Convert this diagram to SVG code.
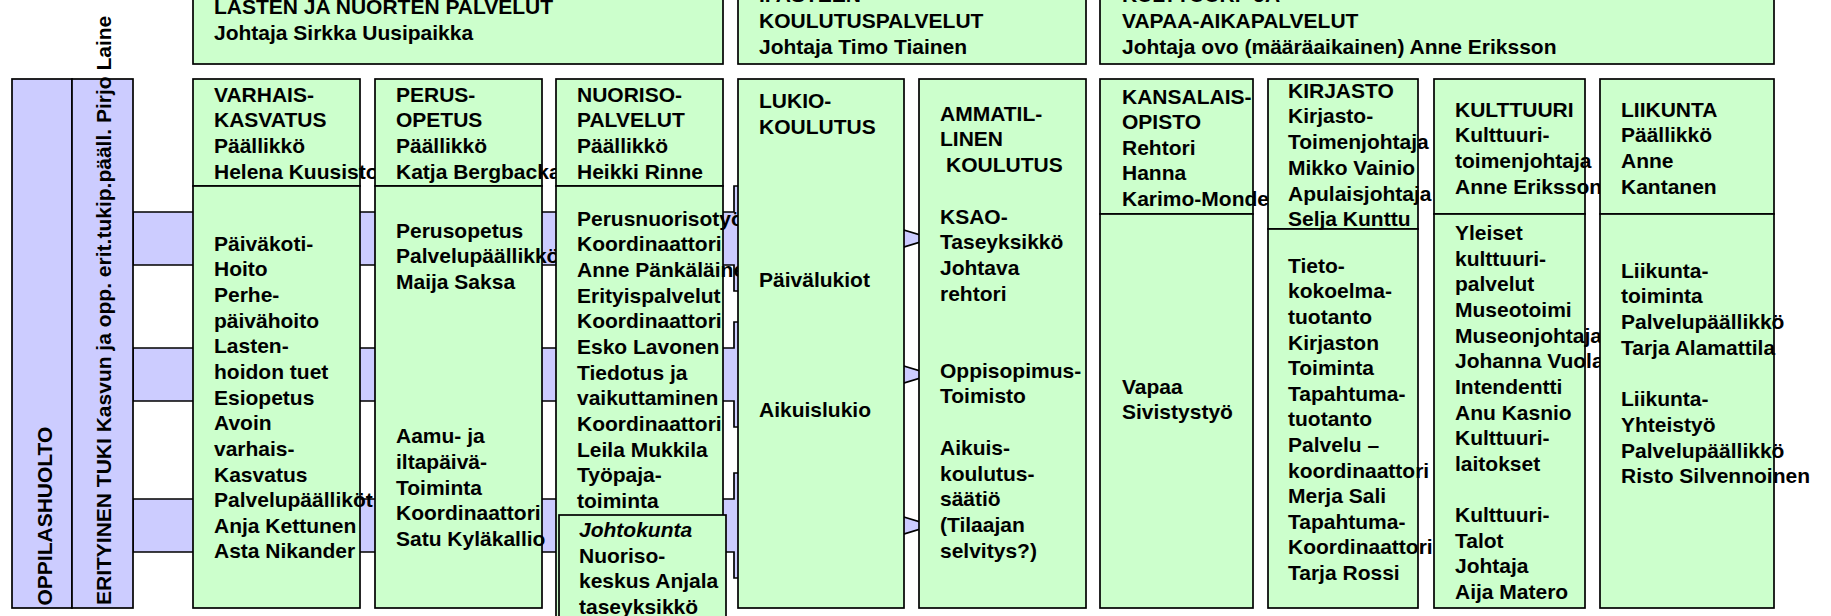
<svg xmlns="http://www.w3.org/2000/svg" width="1831" height="616" viewBox="0 0 1831 616">
<style>
.g{fill:#CCFFCC;stroke:#000;stroke-width:1.7}
.l{fill:#CCCCFF;stroke:#000;stroke-width:1.7}
text{font-family:"Liberation Sans",Arial,sans-serif;font-weight:bold;font-size:21px;fill:#000}
.i{font-style:italic}
</style>
<rect x="0" y="0" width="1831" height="616" fill="#fff"/>
<g id="connectors">
<path class="l" d="M133,212H734V186H745V291H734V265H133Z"/>
<path class="l" d="M133,348H734V322H745V427H734V401H133Z"/>
<path class="l" d="M133,499H734V473H745V578H734V552H133Z"/>
<polygon class="l" points="898,228.2 925,236.5 925,240.5 898,248.8"/>
<polygon class="l" points="898,364.2 925,372.5 925,376.5 898,384.8"/>
<polygon class="l" points="898,515.2 925,523.5 925,527.5 898,535.8"/>
</g>
<g id="header-lasten">
<rect class="g" x="193" y="-40" width="530" height="104"/>
<text x="214" y="14">LASTEN JA NUORTEN PALVELUT<tspan x="214" y="40">Johtaja Sirkka Uusipaikka</tspan></text>
</g>
<g id="header-koulutus">
<rect class="g" x="738" y="-40" width="348" height="104"/>
<text x="759" y="2.3">II ASTEEN<tspan x="759" y="28">KOULUTUSPALVELUT</tspan><tspan x="759" y="53.7">Johtaja Timo Tiainen</tspan></text>
</g>
<g id="header-kulttuuri">
<rect class="g" x="1100" y="-40" width="674" height="104"/>
<text x="1122" y="2.3">KULTTUURI- JA<tspan x="1122" y="28">VAPAA-AIKAPALVELUT</tspan><tspan x="1122" y="53.7">Johtaja ovo (määräaikainen) Anne Eriksson</tspan></text>
</g>
<g id="oppilashuolto">
<rect class="l" x="12" y="79" width="60" height="529"/>
<text transform="translate(51.5,605.5) rotate(-90)">OPPILASHUOLTO</text>
</g>
<g id="erityinen-tuki">
<rect class="l" x="72" y="79" width="61" height="529"/>
<text transform="translate(111,605) rotate(-90)">ERITYINEN TUKI Kasvun ja opp. erit.tukip.pääll. Pirjo Laine</text>
</g>
<g id="varhaiskasvatus">
<rect class="g" x="193" y="79" width="167" height="107"/>
<rect class="g" x="193" y="186" width="167" height="422"/>
<text x="214" y="101.7">VARHAIS-<tspan x="214" dy="25.7">KASVATUS</tspan><tspan x="214" dy="25.7">Päällikkö</tspan><tspan x="214" dy="25.7">Helena Kuusisto</tspan></text>
<text x="214" y="250.7">Päiväkoti-<tspan x="214" dy="25.65">Hoito</tspan><tspan x="214" dy="25.65">Perhe-</tspan><tspan x="214" dy="25.65">päivähoito</tspan><tspan x="214" dy="25.65">Lasten-</tspan><tspan x="214" dy="25.65">hoidon tuet</tspan><tspan x="214" dy="25.65">Esiopetus</tspan><tspan x="214" dy="25.65">Avoin</tspan><tspan x="214" dy="25.65">varhais-</tspan><tspan x="214" dy="25.65">Kasvatus</tspan><tspan x="214" dy="25.65">Palvelupäälliköt</tspan><tspan x="214" dy="25.65">Anja Kettunen</tspan><tspan x="214" dy="25.65">Asta Nikander</tspan></text>
</g>
<g id="perusopetus">
<rect class="g" x="375" y="79" width="167" height="107"/>
<rect class="g" x="375" y="186" width="167" height="422"/>
<text x="396" y="101.7">PERUS-<tspan x="396" dy="25.7">OPETUS</tspan><tspan x="396" dy="25.7">Päällikkö</tspan><tspan x="396" dy="25.7">Katja Bergbacka</tspan></text>
<text x="396" y="237.7">Perusopetus<tspan x="396" dy="25.7">Palvelupäällikkö</tspan><tspan x="396" dy="25.7">Maija Saksa</tspan><tspan x="396" dy="154.2">Aamu- ja</tspan><tspan x="396" dy="25.6">iltapäivä-</tspan><tspan x="396" dy="25.6">Toiminta</tspan><tspan x="396" dy="25.6">Koordinaattori</tspan><tspan x="396" dy="25.6">Satu Kyläkallio</tspan></text>
</g>
<g id="nuorisopalvelut">
<rect class="g" x="556" y="79" width="167" height="107"/>
<rect class="g" x="556" y="186" width="167" height="440"/>
<text x="577" y="101.7">NUORISO-<tspan x="577" dy="25.7">PALVELUT</tspan><tspan x="577" dy="25.7">Päällikkö</tspan><tspan x="577" dy="25.7">Heikki Rinne</tspan></text>
<text x="577" y="225.7">Perusnuorisotyö<tspan x="577" dy="25.65">Koordinaattori</tspan><tspan x="577" dy="25.65">Anne Pänkäläinen</tspan><tspan x="577" dy="25.65">Erityispalvelut</tspan><tspan x="577" dy="25.65">Koordinaattori</tspan><tspan x="577" dy="25.65">Esko Lavonen</tspan><tspan x="577" dy="25.65">Tiedotus ja</tspan><tspan x="577" dy="25.65">vaikuttaminen</tspan><tspan x="577" dy="25.65">Koordinaattori</tspan><tspan x="577" dy="25.65">Leila Mukkila</tspan><tspan x="577" dy="25.65">Työpaja-</tspan><tspan x="577" dy="25.65">toiminta</tspan></text>
</g>
<g id="johtokunta">
<rect class="g" x="559" y="515" width="167" height="120"/>
<text x="579" y="537"><tspan class="i">Johtokunta</tspan><tspan x="579" dy="25.5">Nuoriso-</tspan><tspan x="579" dy="25.5">keskus Anjala</tspan><tspan x="579" dy="25.5">taseyksikkö</tspan></text>
</g>
<g id="lukiokoulutus">
<rect class="g" x="738" y="79" width="166" height="529"/>
<text x="759" y="108.3">LUKIO-<tspan x="759" dy="25.3">KOULUTUS</tspan></text>
<text x="759" y="287.3">Päivälukiot</text>
<text x="759" y="416.7">Aikuislukio</text>
</g>
<g id="ammatillinen-koulutus">
<rect class="g" x="919" y="79" width="167" height="529"/>
<text x="940" y="120.7">AMMATIL-<tspan x="940" dy="25.7">LINEN</tspan><tspan x="946" dy="25.7">KOULUTUS</tspan><tspan x="940" dy="51.4">KSAO-</tspan><tspan x="940" dy="25.7">Taseyksikkö</tspan><tspan x="940" dy="25.7">Johtava</tspan><tspan x="940" dy="25.7">rehtori</tspan><tspan x="940" dy="77.1">Oppisopimus-</tspan><tspan x="940" dy="25.7">Toimisto</tspan><tspan x="940" dy="51.4">Aikuis-</tspan><tspan x="940" dy="25.7">koulutus-</tspan><tspan x="940" dy="25.7">säätiö</tspan><tspan x="940" dy="25.7">(Tilaajan</tspan><tspan x="940" dy="25.7">selvitys?)</tspan></text>
</g>
<g id="kansalaisopisto">
<rect class="g" x="1100" y="79" width="153" height="135"/>
<rect class="g" x="1100" y="214" width="153" height="394"/>
<text x="1122" y="104">KANSALAIS-<tspan x="1122" dy="25.4">OPISTO</tspan><tspan x="1122" dy="25.4">Rehtori</tspan><tspan x="1122" dy="25.4">Hanna</tspan><tspan x="1122" dy="25.4">Karimo-Monde</tspan></text>
<text x="1122" y="394">Vapaa<tspan x="1122" dy="25.4">Sivistystyö</tspan></text>
</g>
<g id="kirjasto">
<rect class="g" x="1268" y="79" width="150" height="150"/>
<rect class="g" x="1268" y="229" width="150" height="379"/>
<text x="1288" y="97.7">KIRJASTO<tspan x="1288" dy="25.7">Kirjasto-</tspan><tspan x="1288" dy="25.7">Toimenjohtaja</tspan><tspan x="1288" dy="25.7">Mikko Vainio</tspan><tspan x="1288" dy="25.7">Apulaisjohtaja</tspan><tspan x="1288" dy="25.7">Selja Kunttu</tspan></text>
<text x="1288" y="272.7">Tieto-<tspan x="1288" dy="25.6">kokoelma-</tspan><tspan x="1288" dy="25.6">tuotanto</tspan><tspan x="1288" dy="25.6">Kirjaston</tspan><tspan x="1288" dy="25.6">Toiminta</tspan><tspan x="1288" dy="25.6">Tapahtuma-</tspan><tspan x="1288" dy="25.6">tuotanto</tspan><tspan x="1288" dy="25.6">Palvelu –</tspan><tspan x="1288" dy="25.6">koordinaattori</tspan><tspan x="1288" dy="25.6">Merja Sali</tspan><tspan x="1288" dy="25.6">Tapahtuma-</tspan><tspan x="1288" dy="25.6">Koordinaattori</tspan><tspan x="1288" dy="25.6">Tarja Rossi</tspan></text>
</g>
<g id="kulttuuri">
<rect class="g" x="1434" y="79" width="151" height="135"/>
<rect class="g" x="1434" y="214" width="151" height="394"/>
<text x="1455" y="116.7">KULTTUURI<tspan x="1455" dy="25.6">Kulttuuri-</tspan><tspan x="1455" dy="25.6">toimenjohtaja</tspan><tspan x="1455" dy="25.6">Anne Eriksson</tspan></text>
<text x="1455" y="240">Yleiset<tspan x="1455" dy="25.65">kulttuuri-</tspan><tspan x="1455" dy="25.65">palvelut</tspan><tspan x="1455" dy="25.65">Museotoimi</tspan><tspan x="1455" dy="25.65">Museonjohtaja</tspan><tspan x="1455" dy="25.65">Johanna Vuola</tspan><tspan x="1455" dy="25.65">Intendentti</tspan><tspan x="1455" dy="25.65">Anu Kasnio</tspan><tspan x="1455" dy="25.65">Kulttuuri-</tspan><tspan x="1455" dy="25.65">laitokset</tspan><tspan x="1455" dy="51.3">Kulttuuri-</tspan><tspan x="1455" dy="25.65">Talot</tspan><tspan x="1455" dy="25.65">Johtaja</tspan><tspan x="1455" dy="25.65">Aija Matero</tspan></text>
</g>
<g id="liikunta">
<rect class="g" x="1600" y="79" width="174" height="135"/>
<rect class="g" x="1600" y="214" width="174" height="394"/>
<text x="1621" y="116.7">LIIKUNTA<tspan x="1621" dy="25.6">Päällikkö</tspan><tspan x="1621" dy="25.6">Anne</tspan><tspan x="1621" dy="25.6">Kantanen</tspan></text>
<text x="1621" y="277.7">Liikunta-<tspan x="1621" dy="25.7">toiminta</tspan><tspan x="1621" dy="25.7">Palvelupäällikkö</tspan><tspan x="1621" dy="25.7">Tarja Alamattila</tspan><tspan x="1621" dy="51.4">Liikunta-</tspan><tspan x="1621" dy="25.7">Yhteistyö</tspan><tspan x="1621" dy="25.7">Palvelupäällikkö</tspan><tspan x="1621" dy="25.7">Risto Silvennoinen</tspan></text>
</g>
</svg>
